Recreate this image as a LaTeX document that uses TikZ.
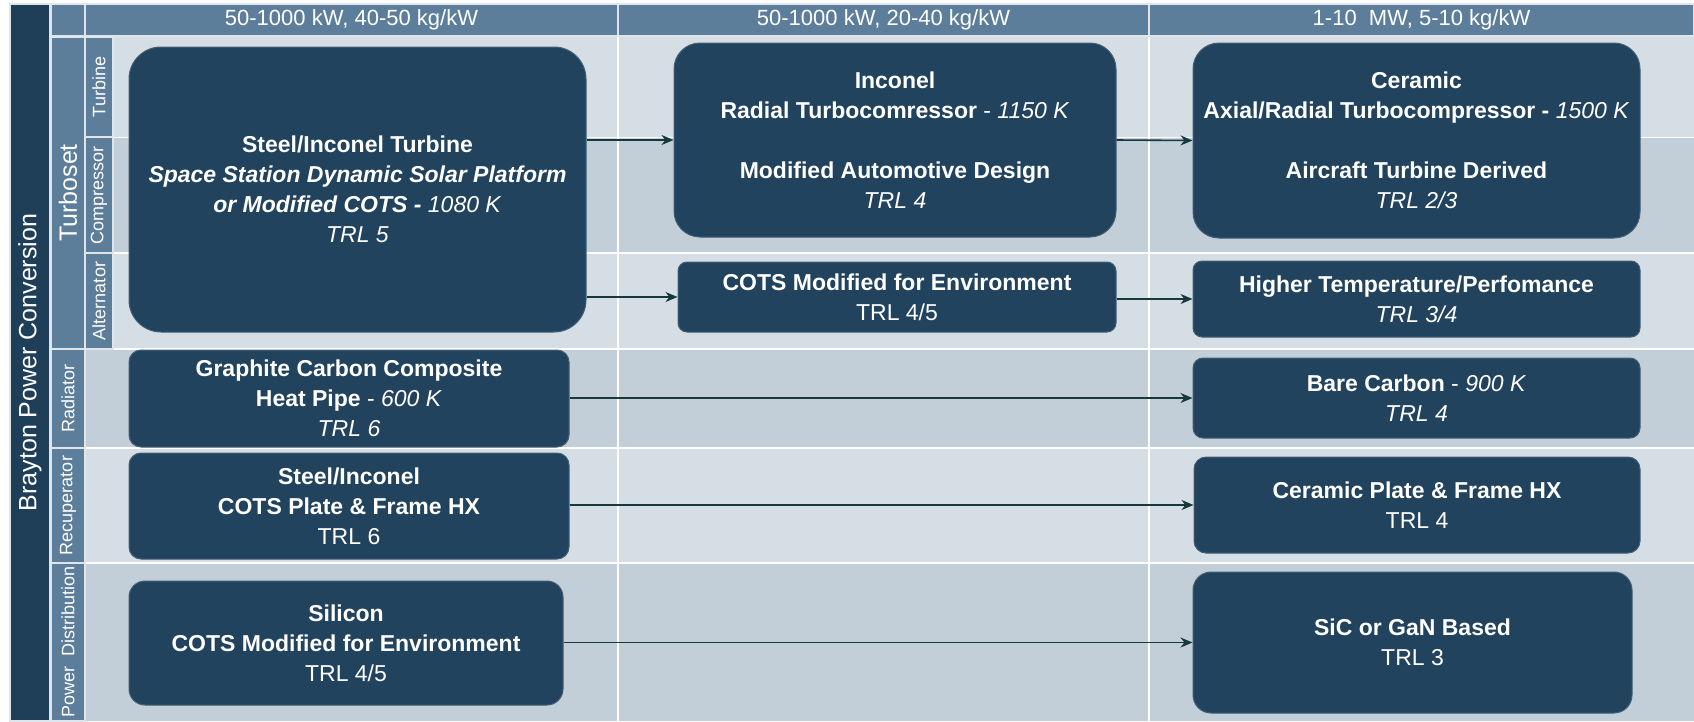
\documentclass[tikz,border=0pt]{standalone}
\usepackage{fontspec}
\setmainfont{Liberation Sans}
\usetikzlibrary{arrows.meta}

\definecolor{boxblue}{HTML}{22435E}
\definecolor{barblue}{HTML}{1F3F59}
\definecolor{headblue}{HTML}{5C7E9A}
\definecolor{rowlight}{HTML}{D6DEE5}
\definecolor{rowdark}{HTML}{C2CFD9}
\definecolor{arrowteal}{HTML}{163A3C}

\newcommand{\bi}[1]{\textbf{\textit{#1}}}

\begin{document}
\begin{tikzpicture}[x=1pt, y=-1pt,
    tech/.style={rectangle, rounded corners=#1, fill=boxblue, draw=boxblue!85!white,
        line width=1pt, text=white, align=center, inner sep=0pt,
        font=\fontsize{23}{30}\selectfont},
    tech/.default=12pt,
    cell/.style={rectangle, fill=headblue, draw=white!80!headblue, line width=1.2pt,
        text=white, inner sep=0pt, font=\fontsize{18}{20}\selectfont},
    arr/.style={draw=arrowteal, line width=1.6pt, -{Stealth[length=12pt, width=10pt]}}]
    \useasboundingbox (0,0) rectangle (1694,721);
    \fill[white] (0,0) rectangle (1694,721);

    % rows
    \fill[rowlight] (113,37) rectangle (1694,137);
    \fill[rowdark] (113,137) rectangle (1694,253);
    \fill[rowlight] (113,253) rectangle (1694,349);
    \fill[rowdark] (85,349) rectangle (1694,448);
    \fill[rowlight] (85,448) rectangle (1694,563);
    \fill[rowdark] (85,563) rectangle (1694,721);
    \draw[white, line width=1pt] (113,137) -- (1694,137);
    \draw[white, line width=2pt] (113,253) -- (1694,253);
    \draw[white, line width=2pt] (85,349) -- (1694,349);
    \draw[white, line width=2pt] (85,448) -- (1694,448);
    \draw[white, line width=2pt] (85,563) -- (1694,563);
    \draw[white, line width=2pt] (618,36) -- (618,721);
    \draw[white, line width=2pt] (1149,36) -- (1149,721);

    % headers
    \node[cell, fill=barblue, minimum width=717, minimum height=40, rotate=90,
        font=\fontsize{25}{28}\selectfont] (brayton) at (30,362.5) {Brayton Power Conversion};
    \node[cell, minimum width=34, minimum height=32] (corner) at (68,20) {};
    \node[cell, minimum width=533, minimum height=32, font=\fontsize{22}{24}\selectfont] (low) at (351.5,20) {50-1000 kW, 40-50 kg/kW};
    \node[cell, minimum width=531, minimum height=32, font=\fontsize{22}{24}\selectfont] (mid) at (883.5,20) {50-1000 kW, 20-40 kg/kW};
    \node[cell, minimum width=545, minimum height=32, font=\fontsize{22}{24}\selectfont] (high) at (1421.5,20) {1-10~~MW, 5-10 kg/kW};

    \node[cell, minimum width=312, minimum height=34, rotate=90,
        font=\fontsize{25}{28}\selectfont] (turboset) at (68,193) {Turboset};
    \node[cell, minimum width=100, minimum height=28, rotate=90] (turbine) at (99,87) {Turbine};
    \node[cell, minimum width=116, minimum height=28, rotate=90] (compressor) at (99,195) {Compressor};
    \node[cell, minimum width=96, minimum height=28, rotate=90] (alternator) at (99,301) {Alternator};
    \node[cell, minimum width=99, minimum height=34, rotate=90] (radiator) at (68,398.5) {Radiator};
    \node[cell, minimum width=115, minimum height=34, rotate=90] (recuperator) at (68,505.5) {Recuperator};
    \node[cell, minimum width=158, minimum height=34, rotate=90] (power) at (68,642) {Power~~Distribution};

    % technology boxes
    \node[tech=32pt, minimum width=457, minimum height=285] (steel) at (357.5,189.5)
        {\textbf{Steel/Inconel Turbine}\\ \bi{Space Station Dynamic Solar Platform}\\
         \bi{or Modified COTS -} \textit{1080 K}\\ \textit{TRL 5}};
    \node[tech=26pt, minimum width=442, minimum height=194] (inconel) at (895,140)
        {\textbf{Inconel}\\ \textbf{Radial Turbocomressor} - \textit{1150 K}\\[30pt]
         \textbf{Modified Automotive Design}\\ \textit{TRL 4}};
    \node[tech=26pt, minimum width=447, minimum height=195] (ceramic) at (1416.5,140.5)
        {\textbf{Ceramic}\\ \textbf{Axial/Radial Turbocompressor -} \textit{1500 K}\\[30pt]
         \textbf{Aircraft Turbine Derived}\\ \textit{TRL 2/3}};
    \node[tech=9pt, minimum width=438, minimum height=70] (cots) at (897,297)
        {\textbf{COTS Modified for Environment}\\ TRL 4/5};
    \node[tech=9pt, minimum width=447, minimum height=76] (hightemp) at (1416.5,299)
        {\textbf{Higher Temperature/Perfomance}\\ \textit{TRL 3/4}};
    \node[tech=12pt, minimum width=440, minimum height=97] (graphite) at (349,398.5)
        {\textbf{Graphite Carbon Composite}\\ \textbf{Heat Pipe} - \textit{600 K}\\ \textit{TRL 6}};
    \node[tech=10pt, minimum width=447, minimum height=80] (bare) at (1416.5,398)
        {\textbf{Bare Carbon} - \textit{900 K}\\ \textit{TRL 4}};
    \node[tech=12pt, minimum width=440, minimum height=106] (plate) at (349,506)
        {\textbf{Steel/Inconel}\\ \textbf{COTS Plate \& Frame HX}\\ TRL 6};
    \node[tech=12pt, minimum width=446, minimum height=96] (ceramicplate) at (1417,505)
        {\textbf{Ceramic Plate \& Frame HX}\\ TRL 4};
    \node[tech=16pt, minimum width=434, minimum height=124] (silicon) at (346,643)
        {\textbf{Silicon}\\ \textbf{COTS Modified for Environment}\\ TRL 4/5};
    \node[tech=18pt, minimum width=439, minimum height=141] (sic) at (1412.5,642.5)
        {\textbf{SiC or GaN Based}\\ TRL 3};

    % arrows
    \draw[arr] (steel.east |- inconel.west) -- (inconel.west);
    \draw[arr] (steel.east |- cots.west) -- (cots.west);
    \draw[arr] (inconel.east) -- (ceramic.west);
    \draw[arr] (cots.east |- hightemp.west) -- (hightemp.west);
    \draw[arr] (graphite.east |- bare.west) -- (bare.west);
    \draw[arr] (plate.east |- ceramicplate.west) -- (ceramicplate.west);
    \draw[arr] (silicon.east |- sic.west) -- (sic.west);
\end{tikzpicture}
\end{document}
